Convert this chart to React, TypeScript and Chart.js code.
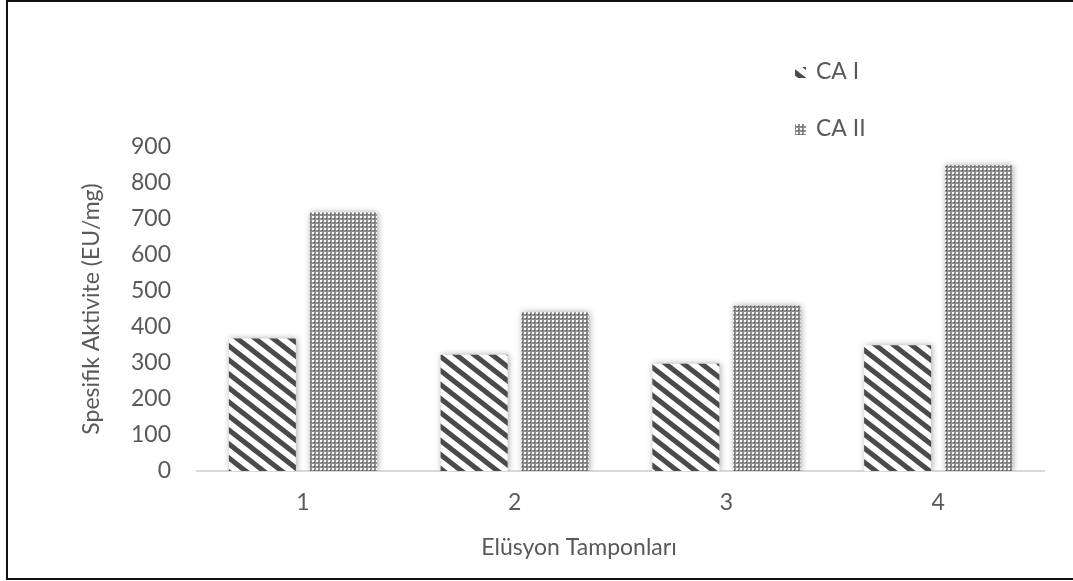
import React, { useEffect, useRef } from 'react';
import { Chart, registerables } from 'chart.js';

Chart.register(...registerables);

// Buffer numbers (x categories)
const categories = ['1', '2', '3', '4'];
// Specific activity per buffer, EU/mg
const caIValues = [368, 323, 298, 349];
const caIIValues = [718, 441, 459, 849];
const seriesLabels = ['CA I', 'CA II'];
const yTickValues = [0, 100, 200, 300, 400, 500, 600, 700, 800, 900];
const xAxisTitle = 'Elüsyon Tamponları';
const yAxisTitle = 'Spesifik Aktivite (EU/mg)';

const FONT = 'Lato, "Open Sans", sans-serif';
const TEXT_COLOR = '#595959';
const FONT_SIZE = 23;

function makeStripePattern(): CanvasPattern | string {
  const w = 18;
  const h = 14;
  const c = document.createElement('canvas');
  c.width = w;
  c.height = h;
  const g = c.getContext('2d');
  if (!g) return '#777';
  g.fillStyle = '#ffffff';
  g.fillRect(0, 0, w, h);
  g.strokeStyle = '#4a4a4a';
  g.lineWidth = 5;
  for (let k = -2; k <= 2; k++) {
    g.beginPath();
    g.moveTo(k * w - w, -h);
    g.lineTo(k * w + 2 * w, 2 * h);
    g.stroke();
  }
  const p = g.createPattern(c, 'repeat');
  return p || '#777';
}

function makeDotPattern(): CanvasPattern | string {
  const c = document.createElement('canvas');
  c.width = 4;
  c.height = 4;
  const g = c.getContext('2d');
  if (!g) return '#a0a0a0';
  const W = '#ffffff';
  const G = '#8c8c8c';
  const D = '#4e4e4e';
  const grid = [
    [W, W, G, G],
    [W, W, G, G],
    [G, G, D, G],
    [G, G, G, G],
  ];
  for (let y = 0; y < 4; y++) {
    for (let x = 0; x < 4; x++) {
      g.fillStyle = grid[y][x];
      g.fillRect(x, y, 1, 1);
    }
  }
  const p = g.createPattern(c, 'repeat');
  return p || '#a0a0a0';
}

// Soft shadow behind the bars
const barShadow = {
  id: 'barShadow',
  beforeDatasetsDraw(chart: any) {
    const ctx = chart.ctx;
    ctx.save();
    ctx.shadowColor = 'rgba(0,0,0,0.35)';
    ctx.shadowBlur = 6;
    ctx.shadowOffsetX = 1;
    ctx.shadowOffsetY = 0;
  },
  afterDatasetsDraw(chart: any) {
    chart.ctx.restore();
  },
};

// Vertical legend in the upper right and the category axis caption
const sideLegend = {
  id: 'sideLegend',
  afterDraw(chart: any, _args: any, opts: any) {
    const ctx = chart.ctx;
    ctx.save();
    ctx.font = `${FONT_SIZE}px ${FONT}`;
    ctx.textBaseline = 'middle';
    ctx.textAlign = 'left';
    chart.data.datasets.forEach((ds: any, i: number) => {
      const cy = opts.y + i * opts.gap;
      ctx.fillStyle = ds.backgroundColor;
      ctx.fillRect(opts.x, cy - 5, 11, 11);
      ctx.fillStyle = TEXT_COLOR;
      ctx.fillText(ds.label, opts.x + 21, cy);
    });
    ctx.textAlign = 'center';
    ctx.fillText(opts.caption, opts.captionX, opts.captionY);
    ctx.restore();
  },
};

export default function App() {
  const canvasRef = useRef<HTMLCanvasElement | null>(null);

  useEffect(() => {
    const canvas = canvasRef.current;
    if (!canvas) return;
    const stripes = makeStripePattern();
    const dots = makeDotPattern();

    const chart = new Chart(canvas, {
      type: 'bar',
      data: {
        labels: categories,
        datasets: [
          {
            label: seriesLabels[0],
            data: caIValues,
            backgroundColor: stripes as any,
            borderWidth: 0,
            categoryPercentage: 0.765,
            barPercentage: 0.827,
          },
          {
            label: seriesLabels[1],
            data: caIIValues,
            backgroundColor: dots as any,
            borderWidth: 0,
            categoryPercentage: 0.765,
            barPercentage: 0.827,
          },
        ],
      },
      options: {
        animation: false,
        responsive: false,
        maintainAspectRatio: false,
        devicePixelRatio: 1,
        layout: { padding: { top: 147, right: 29, bottom: 0, left: 0 } },
        plugins: {
          legend: { display: false },
          tooltip: { enabled: false },
          sideLegend: {
            x: 795,
            y: 72,
            gap: 57,
            caption: xAxisTitle,
            captionX: 579,
            captionY: 548,
          },
        } as any,
        scales: {
          x: {
            grid: { display: false, drawTicks: false },
            border: { display: true, color: '#d9d9d9', width: 2 },
            ticks: {
              color: TEXT_COLOR,
              font: { family: FONT, size: FONT_SIZE },
              padding: 18,
            },
            afterFit: (scale: any) => {
              scale.height = 110;
            },
          },
          y: {
            min: 0,
            max: 900,
            grid: { display: false, drawTicks: false },
            border: { display: false },
            afterBuildTicks: (scale: any) => {
              scale.ticks = yTickValues.map((v) => ({ value: v }));
            },
            ticks: {
              color: TEXT_COLOR,
              font: { family: FONT, size: FONT_SIZE },
              padding: 26,
            },
            title: {
              display: true,
              text: yAxisTitle,
              color: TEXT_COLOR,
              font: { family: FONT, size: FONT_SIZE },
              padding: { top: 78, bottom: 0 },
            },
            afterFit: (scale: any) => {
              scale.width = 197;
            },
          },
        },
      },
      plugins: [barShadow, sideLegend],
    });

    return () => chart.destroy();
  }, []);

  return (
    <div style={{ position: 'absolute', left: 0, top: 0, width: 1073, height: 581, background: '#fff', overflow: 'hidden' }}>
      <canvas ref={canvasRef} width={1073} height={581} style={{ position: 'absolute', left: 0, top: 0, width: 1073, height: 581 }} />
      <div
        style={{
          position: 'absolute',
          left: 6,
          top: 0,
          width: 1080,
          height: 580,
          boxSizing: 'border-box',
          border: '2px solid #111',
          pointerEvents: 'none',
        }}
      />
    </div>
  );
}
